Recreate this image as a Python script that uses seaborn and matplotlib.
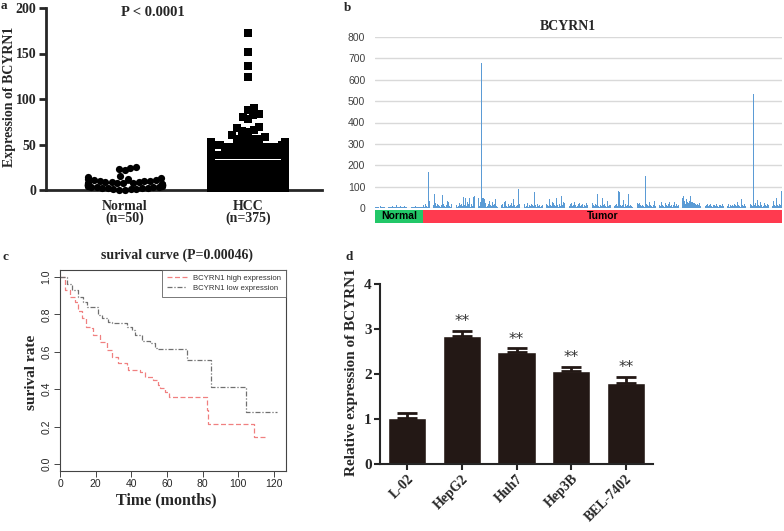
import warnings
import numpy as np
import seaborn as sns
import matplotlib
matplotlib.use("Agg")
import matplotlib.pyplot as plt

warnings.filterwarnings("ignore")

W, H = 784, 531
serif = "Liberation Serif"
sans = "Liberation Sans"

#### panel a: expression, Normal vs HCC
groups_a = ["Normal", "HCC"]
group_labels_a = ["Normal\n(n=50)", "HCC\n(n=375)"]
group_markers_a = ["o", "s"]
normal_a = [24, 25, 23, 22, 15, 14, 13, 12, 12, 11, 11, 10, 10, 10, 9, 9, 9,
            8, 8, 8, 8, 7, 7, 7, 7, 6, 6, 6, 6, 5, 5, 5, 5, 4, 4, 4, 4,
            3, 3, 3, 3, 2, 2, 2, 2, 1, 1, 1, 0.5, 0.5]
hcc_levels = [2, 5, 8, 11, 14, 17, 20, 23, 26, 29, 32, 35, 38, 41, 44, 47, 50, 53, 56]
hcc_counts = [26, 30, 30, 28, 26, 24, 23, 22, 20, 20, 20, 18, 16, 14, 12, 10, 8, 6, 5]
hcc_outliers = [172, 152, 136, 124, 90, 88, 83, 82, 80, 78, 69, 68, 66, 65, 64, 60, 58]

#### panel b: per-sample expression (50 normal, 375 tumor)
group_names_b = ["Normal", "Tumor"]
group_sizes_b = [50, 375]
group_colors_b = ["#22c768", "#ff3a4f"]
normal_b = [3, 5, 4, 6, 2, 8, 5, 4, 7, 3, 6, 9, 20, 18, 5, 4, 6, 3, 8, 5, 4, 7, 12, 6, 5,
            3, 9, 4, 6, 5, 8, 4, 3, 6, 18, 5, 7, 4, 6, 3, 5, 4, 8, 6, 3, 5, 4, 7, 3, 5]
tumor_b = [12, 6, 18, 9, 4, 170, 35, 40, 55, 22, 30, 15, 65, 25, 8, 20, 14, 10, 6, 12, 60, 18, 9, 4, 15,
           35, 28, 10, 6, 20, 45, 12, 40, 30, 8, 15, 5, 10, 22, 14, 18, 9, 50, 12, 48, 9, 30, 20, 45, 6,
           18, 10, 50, 55, 40, 12, 45, 50, 48, 8, 30, 680, 45, 48, 40, 25, 6, 10, 20, 35, 15, 8, 28, 12, 18,
           40, 10, 6, 25, 14, 55, 8, 12, 20, 6, 30, 35, 10, 5, 18, 9, 12, 25, 8, 40, 15, 6, 10, 12, 90,
           20, 15, 85, 12, 10, 8, 18, 6, 10, 25, 5, 12, 8, 20, 15, 10, 75, 12, 6, 18, 9, 14, 5, 8, 12,
           15, 50, 10, 6, 20, 12, 8, 40, 15, 10, 30, 25, 12, 8, 45, 15, 6, 20, 10, 55, 12, 30, 25, 15, 8,
           22, 30, 12, 10, 20, 25, 8, 12, 30, 15, 6, 10, 18, 25, 8, 12, 20, 5, 15, 10, 25, 12, 85, 18, 8,
           30, 10, 25, 15, 8, 20, 12, 65, 10, 6, 15, 8, 45, 12, 20, 10, 6, 35, 8, 15, 12, 30, 10, 6, 15,
           8, 12, 20, 10, 80, 75, 12, 8, 15, 38, 6, 20, 10, 12, 65, 8, 15, 10, 6, 135, 10, 8, 125, 20, 25,
           18, 22, 12, 8, 15, 10, 6, 150, 20, 12, 8, 30, 15, 10, 6, 12, 35, 8, 20, 15, 10, 25, 12, 8, 30,
           15, 10, 6, 25, 12, 8, 20, 30, 10, 15, 6, 12, 28, 8, 20, 10, 15, 25, 12, 8, 40, 45, 55, 35, 20,
           42, 30, 25, 35, 55, 28, 30, 22, 25, 18, 15, 20, 12, 25, 10, 8, 15, 20, 12, 6, 10, 15, 18, 8, 12,
           20, 10, 6, 15, 12, 8, 18, 10, 5, 12, 15, 8, 20, 10, 6, 12, 8, 15, 10, 20, 6, 12, 8, 15, 10,
           20, 12, 8, 30, 15, 10, 6, 40, 12, 8, 20, 10, 15, 12, 6, 10, 8, 20, 12, 10, 535, 15, 25, 8, 38,
           12, 8, 30, 15, 6, 10, 25, 12, 8, 20, 15, 6, 28, 10, 12, 8, 35, 15, 10, 45, 12, 8, 20, 15, 80]

#### panel c: Kaplan-Meier steps
high_t = [0, 2.8, 5.6, 8.4, 10.3, 12.1, 14.6, 17.8, 18.7, 22.4, 26.2, 29, 32.7, 37.4, 38.3,
          44.9, 47.7, 52.3, 55.1, 56, 58.9, 61.3, 82.2, 83.2, 108.8, 115.9]
high_s = [1.0, 0.93, 0.895, 0.868, 0.82, 0.78, 0.734, 0.725, 0.69, 0.654, 0.61, 0.574, 0.538, 0.53, 0.503,
          0.494, 0.467, 0.449, 0.42, 0.405, 0.387, 0.36, 0.289, 0.214, 0.143, 0.143]
low_t = [0, 3.7, 6.5, 10.3, 13.1, 15.3, 21.5, 23.4, 27.1, 29, 37.4, 40.2, 42.1, 45.8, 50.5,
         53.3, 54.2, 71, 84.5, 104.3, 121.5]
low_s = [1.0, 0.964, 0.93, 0.895, 0.868, 0.84, 0.797, 0.78, 0.761, 0.752, 0.734, 0.717, 0.69, 0.658, 0.645,
         0.619, 0.613, 0.556, 0.414, 0.276, 0.276]
km_labels = ["BCYRN1 high expression", "BCYRN1 low expression"]

#### panel d: qPCR in cell lines
cells = ["L-02", "HepG2", "Huh7", "Hep3B", "BEL-7402"]
rel_expr = [1.02, 2.84, 2.49, 2.07, 1.81]
rel_err = [0.11, 0.12, 0.08, 0.08, 0.12]
stars = ["", "**", "**", "**", "**"]


def box(x0, y0, x1, y1):
    # pixel box (top-left origin) -> figure fraction rect
    return [x0 / W, 1 - y1 / H, (x1 - x0) / W, (y1 - y0) / H]


def ftext(x, y, s, **kw):
    fig.text(x / W, 1 - y / H, s, **kw)


sns.set_style("ticks")
fig = plt.figure(figsize=(W / 100, H / 100), dpi=100)

bold_serif = dict(family=serif, weight="bold")
SW_SIZE = 5.2

# ---------------- a
ax = fig.add_axes(box(46, 8, 322, 190))
hcc_a = list(np.repeat(hcc_levels, hcc_counts)) + hcc_outliers
for name, vals, mk in zip(groups_a, [normal_a, hcc_a], group_markers_a):
    sns.swarmplot(x=[name] * len(vals), y=vals, order=groups_a, marker=mk,
                  color="black", size=SW_SIZE, linewidth=0, ax=ax)
ax.set_xlim(-0.64, 1.6)
ax.set_ylim(0, 200)
ax.set_yticks([0, 50, 100, 150, 200])
ax.set_xticks([0, 1])
ax.set_xticklabels(group_labels_a, linespacing=0.85)
for lab in ax.get_xticklabels() + ax.get_yticklabels():
    lab.set_fontfamily(serif)
    lab.set_fontweight("bold")
    lab.set_fontsize(10)
ax.tick_params(axis="x", length=0, pad=7)
ax.tick_params(axis="y", length=5, width=2, pad=2)
sns.despine(ax=ax)
for sp in ["left", "bottom"]:
    ax.spines[sp].set_linewidth(2)
ax.set_xlabel("")
ax.set_ylabel("")
ftext(10, 97, "Expression of BCYRN1", rotation=90, ha="center", va="center", fontsize=10, **bold_serif)
ftext(153, 12, "P < 0.0001", ha="center", va="center", fontsize=10.5, **bold_serif)
ftext(4, 6, "a", ha="center", va="center", fontsize=9.5, **bold_serif)

# ---------------- b
axb = fig.add_axes(box(375, 37, 782, 208))
expr_b = normal_b + tumor_b
axb.bar(np.arange(len(expr_b)), expr_b, width=0.85, color="#5b9bd5", linewidth=0, zorder=3)
axb.set_xlim(-0.5, len(expr_b) - 0.5)
axb.set_ylim(0, 800)
axb.set_yticks(range(0, 801, 100))
axb.set_xticks([])
axb.grid(axis="y", color="#d9d9d9", lw=1, zorder=0)
for sp in axb.spines.values():
    sp.set_visible(False)
axb.tick_params(axis="y", length=0, pad=7, labelsize=7.5, labelcolor="#404040")
for lab in axb.get_yticklabels():
    lab.set_fontfamily(sans)

axs = fig.add_axes(box(375, 210, 782, 223))
lefts = np.cumsum([0] + group_sizes_b[:-1])
axs.barh(0, group_sizes_b, left=lefts, height=1, color=group_colors_b, linewidth=0)
for name, l, n in zip(group_names_b, lefts, group_sizes_b):
    axs.text(l + n / 2, 0, name, ha="center", va="center", fontsize=7.5,
             family=sans, weight="bold", color="black")
axs.set_xlim(0, sum(group_sizes_b))
axs.set_ylim(-0.5, 0.5)
axs.axis("off")
ftext(568, 27, "BCYRN1", ha="center", va="center", fontsize=10, **bold_serif)
ftext(348, 8, "b", ha="center", va="center", fontsize=9.5, **bold_serif)

# ---------------- c
axc = fig.add_axes(box(60, 270, 286, 471))
sns.lineplot(x=high_t, y=high_s, drawstyle="steps-post", estimator=None, sort=False,
             color="#f08080", lw=0.9, ls=(0, (4, 2)), label=km_labels[0], ax=axc)
sns.lineplot(x=low_t, y=low_s, drawstyle="steps-post", estimator=None, sort=False,
             color="#707070", lw=0.9, ls=(0, (4, 1.5, 1, 1.5)), label=km_labels[1], ax=axc)
leg = axc.legend(loc="upper right", fontsize=5.6, frameon=True, fancybox=False,
                 borderaxespad=0, handlelength=2.6, borderpad=0.6, labelspacing=0.3)
leg.get_frame().set_edgecolor("#555555")
leg.get_frame().set_linewidth(0.7)
for t in leg.get_texts():
    t.set_fontfamily(sans)
    t.set_color("#333333")
axc.set_xlim(0, 126.7)
axc.set_ylim(-0.037, 1.037)
axc.set_xticks(range(0, 121, 20))
axc.set_yticks([0, 0.2, 0.4, 0.6, 0.8, 1.0])
axc.set_yticklabels(["0.0", "0.2", "0.4", "0.6", "0.8", "1.0"], rotation=90, va="center")
for lab in axc.get_xticklabels() + axc.get_yticklabels():
    lab.set_fontfamily(sans)
axc.tick_params(labelsize=7.5, length=4, width=0.7, color="#444444", pad=2)
for sp in axc.spines.values():
    sp.set_linewidth(0.8)
    sp.set_color("#444444")
axc.set_xlabel("")
axc.set_ylabel("")
ftext(32, 372, "surival rate", rotation=90, ha="center", va="center", fontsize=11, **bold_serif)
ftext(166, 500, "Time (months)", ha="center", va="center", fontsize=11.5, **bold_serif)
ftext(177, 255, "surival curve (P=0.00046)", ha="center", va="center", fontsize=10, **bold_serif)
ftext(5, 257, "c", ha="center", va="center", fontsize=9.5, **bold_serif)

# ---------------- d
axd = fig.add_axes(box(380, 284, 653, 464))
sns.barplot(x=cells, y=rel_expr, color="#231815", saturation=1, width=0.7, errorbar=None, ax=axd)
axd.errorbar(range(len(cells)), rel_expr, yerr=[np.zeros(len(cells)), rel_err], fmt="none",
             ecolor="#231815", elinewidth=2, capsize=7, capthick=2)
for i, (v, e, s) in enumerate(zip(rel_expr, rel_err, stars)):
    axd.text(i, v + e + 0.04, s, ha="center", va="bottom", fontsize=11, color="#333333", family="DejaVu Sans")
axd.set_xlim(-0.5, len(cells) - 0.5)
axd.set_ylim(0, 4)
axd.set_yticks(range(0, 5))
sns.despine(ax=axd)
for sp in ["left", "bottom"]:
    axd.spines[sp].set_linewidth(1.5)
axd.tick_params(length=4, width=1.5, pad=2)
axd.set_xticks(range(len(cells)))
axd.set_xticklabels(cells, rotation=45, ha="right", rotation_mode="anchor")
for lab in axd.get_xticklabels():
    lab.set_fontfamily(serif)
    lab.set_fontweight("bold")
    lab.set_fontsize(10)
for lab in axd.get_yticklabels():
    lab.set_fontfamily(serif)
    lab.set_fontweight("bold")
    lab.set_fontsize(11)
axd.set_xlabel("")
axd.set_ylabel("")
ftext(351, 372, "Relative expression of BCYRN1", rotation=90, ha="center", va="center", fontsize=11, **bold_serif)
ftext(349, 257, "d", ha="center", va="center", fontsize=9.5, **bold_serif)

# seaborn lays the swarm out at draw time over 0.8 of the slot; let it run once,
# take its positions and redraw them squeezed to the narrower GraphPad look
fig.canvas.draw()
for coll in list(ax.collections):
    off = np.array(coll.get_offsets())
    coll.remove()
    if len(off) == 0:
        continue
    ctr = np.round(off[:, 0])
    xs = ctr + (off[:, 0] - ctr) * 0.6 / 0.8
    mk = group_markers_a[int(ctr[0])]
    ax.scatter(xs, off[:, 1], marker=mk, s=SW_SIZE ** 2, c="black", lw=0, clip_on=False, zorder=3)
for i, vals in enumerate([normal_a, hcc_a]):
    ax.hlines(np.mean(vals), i - 0.2, i + 0.2, color="black", lw=1.2, zorder=5)
ax.set_xlim(-0.64, 1.6)
ax.set_ylim(0, 200)

fig.savefig("out.png", dpi=100)
